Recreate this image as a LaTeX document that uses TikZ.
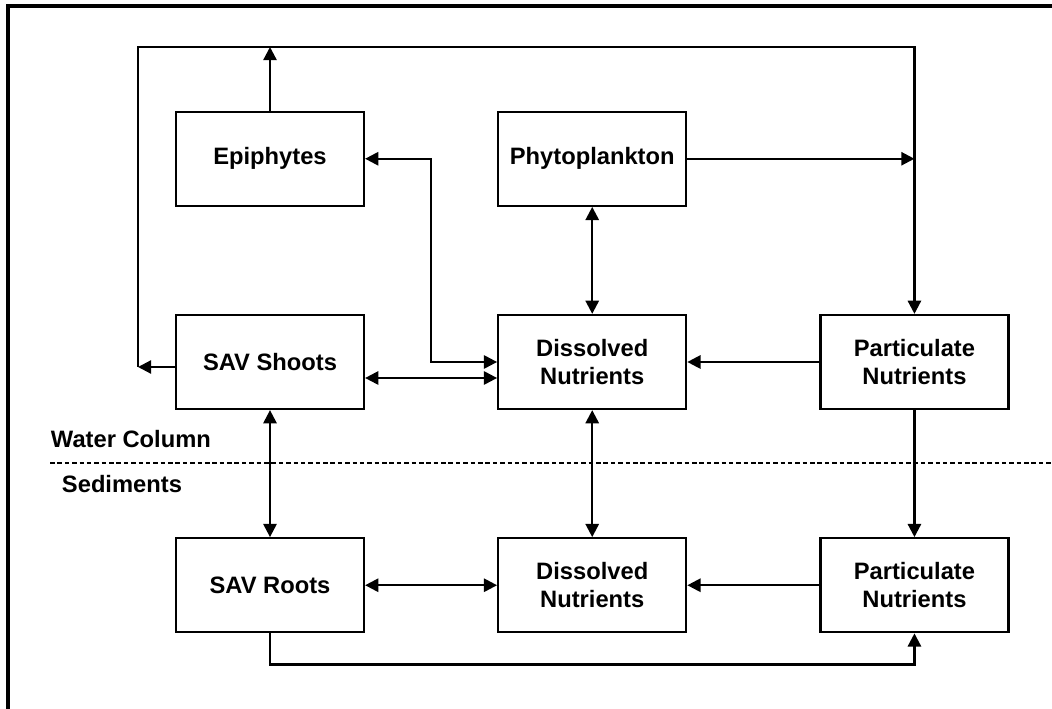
\documentclass[tikz,border=0pt]{standalone}
\usepackage{fontspec}
\setmainfont{Liberation Sans}
\usetikzlibrary{positioning,arrows.meta}
\def\dx{2.64cm}
\def\dy{2.14cm}
\tikzstyle{pool}=[draw,rectangle,minimum width=3.76cm,minimum height=1.88cm,align=center,font=\bfseries\fontsize{13.5}{16}\selectfont]
\tikzstyle{layer}=[anchor=west,font=\bfseries\fontsize{13.5}{16}\selectfont]
\newcommand{\newPool}[3]{\node[pool,#3](#1){#2};}
\newcommand{\newFlow}[3]{\draw[#3] (#1) -- (#2);}

\begin{document}
\begin{tikzpicture}[x=0.02cm,y=0.02cm,node distance=\dy and \dx,
      >={Triangle[length=7.5pt,width=7.5pt]},
      line width=1.3pt  %thick lines as in the scan
      ]
      \useasboundingbox (0,0) rectangle (1052,-709);
      \draw[line width=2pt] (8,-709) -- (8,-6) -- (1052,-6);
      % water column
      \newPool{shoots}{SAV Shoots}{at={(270,-362)}}
      \newPool{dissA}{Dissolved\\Nutrients}{right=of shoots}
      \newPool{partA}{Particulate\\Nutrients}{right=of dissA}
      \newPool{epi}{Epiphytes}{above=of shoots}
      \newPool{phyto}{Phytoplankton}{above=of dissA}
      % sediments
      \newPool{roots}{SAV Roots}{below=2.54cm of shoots}
      \newPool{dissB}{Dissolved\\Nutrients}{right=of roots}
      \newPool{partB}{Particulate\\Nutrients}{right=of dissB}
      % layers
      \coordinate (sepL) at (50,-463);
      \coordinate (sepR) at (1052,-463);
      \draw[line width=1pt,dash pattern=on 2.6pt off 1.6pt] (sepL) -- (sepR);
      \node[layer] (water) at (44,-439) {Water Column};
      \node[layer] (sed) at (55,-484) {Sediments};
      % outer loop to particulates
      \coordinate (loopL) at (138,-367);
      \coordinate (topL) at (138,-47);
      \draw[->] (shoots.west |- loopL) -- (loopL);
      \draw[->] (loopL) -- (topL) -| (partA.north);
      \draw[->] (epi) -- (epi.north |- topL);
      \draw[->] (phyto) -- (phyto -| partA);
      % exchanges with dissolved nutrients
      \coordinate (epiBend) at ([xshift=-1.32cm]dissA.west);
      \draw[<->] (epi.east) -| (epiBend) -- (dissA.west);
      \coordinate (shootIn) at ([yshift=-.32cm]dissA.west);
      \draw[<->] (shoots.east |- shootIn) -- (shootIn);
      \newFlow{phyto}{dissA}{<->}
      \newFlow{partA}{dissA}{->}
      \newFlow{partA}{partB}{->}
      \newFlow{dissA}{dissB}{<->}
      \newFlow{shoots}{roots}{<->}
      \newFlow{roots}{dissB}{<->}
      \newFlow{partB}{dissB}{->}
      \draw[->] (roots.south) -- ++(0,-31) -| (partB.south);
    \end{tikzpicture}
\end{document}
